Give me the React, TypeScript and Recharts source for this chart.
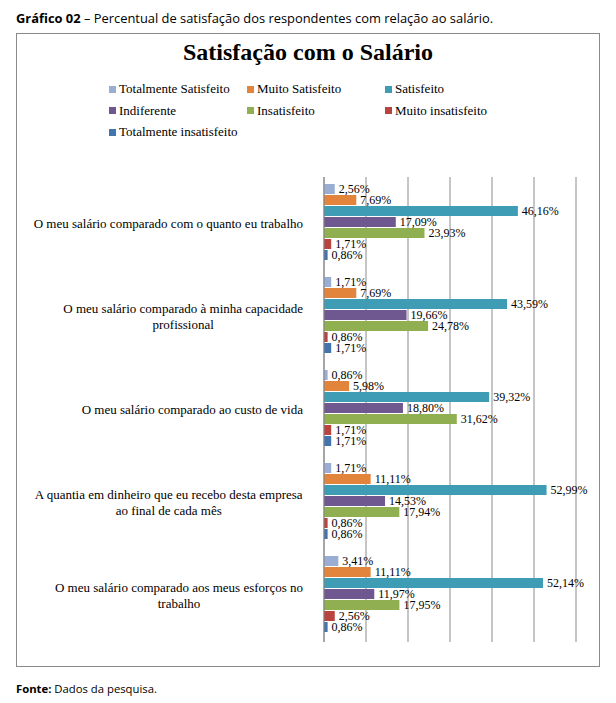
import { BarChart, Bar, XAxis, YAxis, CartesianGrid, LabelList } from "recharts";

const categories = [
  "O meu salário comparado com o quanto eu trabalho",
  "O meu salário comparado à minha capacidade profissional",
  "O meu salário comparado ao custo de vida",
  "A quantia em dinheiro que eu recebo desta empresa ao final de cada mês",
  "O meu salário comparado aos meus esforços no trabalho",
];

const seriesNames = [
  "Totalmente Satisfeito",
  "Muito Satisfeito",
  "Satisfeito",
  "Indiferente",
  "Insatisfeito",
  "Muito insatisfeito",
  "Totalmente insatisfeito",
];

const totalmenteSatisfeito = [2.56, 1.71, 0.86, 1.71, 3.41];
const muitoSatisfeito = [7.69, 7.69, 5.98, 11.11, 11.11];
const satisfeito = [46.16, 43.59, 39.32, 52.99, 52.14];
const indiferente = [17.09, 19.66, 18.8, 14.53, 11.97];
const insatisfeito = [23.93, 24.78, 31.62, 17.94, 17.95];
const muitoInsatisfeito = [1.71, 0.86, 1.71, 0.86, 2.56];
const totalmenteInsatisfeito = [0.86, 1.71, 1.71, 0.86, 0.86];

const xTicks = [0, 10, 20, 30, 40, 50, 60];

const COLORS = ["#9AAED3", "#E3843D", "#3E9CB4", "#6F5890", "#90AF51", "#B8433F", "#4274AE"];

const seriesValues = [
  totalmenteSatisfeito,
  muitoSatisfeito,
  satisfeito,
  indiferente,
  insatisfeito,
  muitoInsatisfeito,
  totalmenteInsatisfeito,
];

const data = categories.map((name, i) => {
  const row: Record<string, string | number> = { name };
  seriesNames.forEach((s, j) => {
    row[s] = seriesValues[j][i];
  });
  return row;
});

const SERIF = "'Liberation Serif', 'Times New Roman', serif";

let canvas: HTMLCanvasElement | null = null;
function textWidth(text: string, font: string) {
  if (!canvas) canvas = document.createElement("canvas");
  const ctx = canvas.getContext("2d");
  if (!ctx) return text.length * 6;
  ctx.font = font;
  return ctx.measureText(text).width;
}

function wrap(text: string, max: number) {
  const words = text.split(" ");
  const lines: string[] = [];
  let cur = "";
  words.forEach((w) => {
    const next = cur ? cur + " " + w : w;
    if (next.length > max && cur) {
      lines.push(cur);
      cur = w;
    } else {
      cur = next;
    }
  });
  if (cur) lines.push(cur);
  return lines;
}

function CategoryTick(props: any) {
  const { x, y, payload } = props;
  const lines = wrap(payload.value, 49);
  const right = x - 13;
  const font = `13px "Liberation Serif"`;
  const widest = Math.max(...lines.map((l) => textWidth(l, font)));
  const single = lines.length === 1;
  const cx = single ? right : right - widest / 2;
  return (
    <g>
      {lines.map((l, i) => (
        <text
          key={i}
          x={cx}
          y={y - (lines.length - 1) * 8 + i * 16}
          dy="0.35em"
          textAnchor={single ? "end" : "middle"}
          style={{ fontFamily: SERIF, fontSize: 13, fill: "#000" }}
        >
          {l}
        </text>
      ))}
    </g>
  );
}

const fmt = (v: any) => `${Number(v).toFixed(2).replace(".", ",")}%`;

export default function App() {
  return (
    <div style={{ position: "relative", width: 600, height: 690 }}>
      <div
        style={{
          position: "absolute",
          left: 8,
          top: 1,
          fontFamily: "'Open Sans', sans-serif",
          fontSize: 12.9,
          whiteSpace: "nowrap",
          color: "#000",
        }}
      >
        <b>Gráfico 02</b> – Percentual de satisfação dos respondentes com relação ao salário.
      </div>
      <div
        style={{
          position: "absolute",
          left: 8,
          top: 25,
          width: 584,
          height: 634,
          border: "1px solid #8a8a8a",
          boxSizing: "border-box",
          background: "#fff",
        }}
      >
        <div
          style={{
            position: "absolute",
            left: 0,
            width: 582,
            top: 5,
            textAlign: "center",
            fontFamily: SERIF,
            fontWeight: "bold",
            fontSize: 24,
          }}
        >
          Satisfação com o Salário
        </div>
        <div
          style={{
            position: "absolute",
            left: 92,
            top: 47,
            width: 420,
            display: "grid",
            gridTemplateColumns: "138px 138px 140px",
            rowGap: 5.5,
            fontFamily: SERIF,
            fontSize: 13,
          }}
        >
          {seriesNames.map((s, i) => (
            <div key={s} style={{ display: "flex", alignItems: "center", height: 16, whiteSpace: "nowrap" }}>
              <span style={{ width: 7, height: 7, background: COLORS[i], marginRight: 3, display: "inline-block" }} />
              {s}
            </div>
          ))}
        </div>
        <BarChart
          width={582}
          height={632}
          data={data}
          layout="vertical"
          margin={{ top: 143, right: 23, bottom: 24, left: 7 }}
          barCategoryGap={7}
          barGap={1}
        >
          <CartesianGrid horizontal={false} stroke="#8c8c8c" />
          <XAxis type="number" domain={[0, 60]} ticks={xTicks} hide />
          <YAxis
            type="category"
            dataKey="name"
            width={300}
            tick={<CategoryTick />}
            tickLine={false}
            axisLine={{ stroke: "#868686" }}
            interval={0}
          />
          {seriesNames.map((s, i) => (
            <Bar key={s} dataKey={s} fill={COLORS[i]} isAnimationActive={false}>
              <LabelList
                dataKey={s}
                position="right"
                offset={4}
                formatter={fmt}
                style={{ fontFamily: SERIF, fontSize: 12, fill: "#000" }}
              />
            </Bar>
          ))}
        </BarChart>
      </div>
      <div
        style={{
          position: "absolute",
          left: 8,
          top: 673,
          fontFamily: "'Open Sans', sans-serif",
          fontSize: 11.3,
          color: "#000",
        }}
      >
        <b>Fonte:</b> Dados da pesquisa.
      </div>
    </div>
  );
}
